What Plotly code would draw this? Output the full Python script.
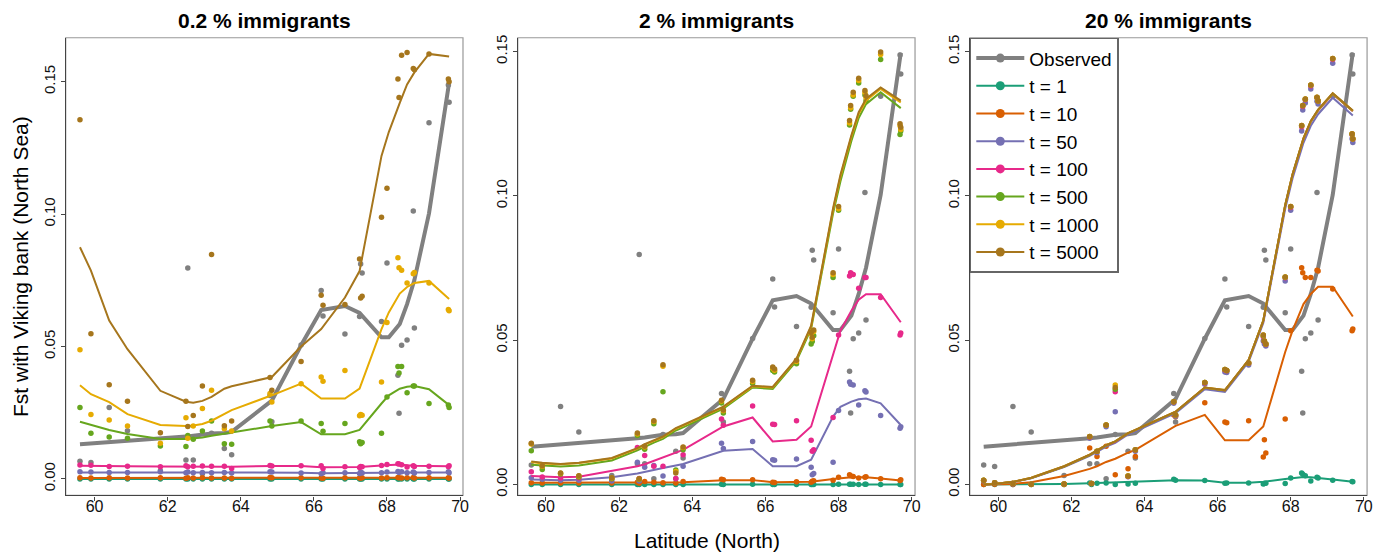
import plotly.graph_objects as go

# ---------------- data ----------------
SITE_LAT = [59.6, 59.9, 60.4, 60.9, 61.8, 62.5, 62.7, 62.95, 63.2, 63.55, 63.75, 64.85,
            65.65, 66.2, 66.85, 67.25, 67.85, 68.05, 68.35, 68.55, 68.75, 69.15, 69.7]
SAMPLE_LAT = [59.6, 59.9, 60.4, 60.9, 61.8, 62.5, 62.55, 62.7, 62.95, 63.2, 63.55, 63.75,
              64.8, 64.85, 65.65, 66.2, 66.25, 66.85, 67.25, 67.28, 67.32, 67.85, 68.0,
              68.3, 68.33, 68.4, 68.55, 68.72, 68.75, 69.15, 69.68, 69.7]

PANEL_TITLES = ["0.2 % immigrants", "2 % immigrants", "20 % immigrants"]
SERIES = ["t = 1", "t = 10", "t = 50", "t = 100", "t = 500", "t = 1000", "t = 5000"]
COLORS = ["#1B9E77", "#D95F02", "#7570B3", "#E7298A", "#66A61E", "#E6AB02", "#A6761D"]
OBS_COLOR = "#808080"
X_TICKS = [60, 62, 64, 66, 68, 70]
Y_TICKS = [0.0, 0.05, 0.10, 0.15]
Y_TICK_TEXT = ["0.00", "0.05", "0.10", "0.15"]

obs_line = [0.0131, 0.0134, 0.0138, 0.0142, 0.0150, 0.0160, 0.0163, 0.0168, 0.0172, 0.0174, 0.0178, 0.0296,
            0.0505, 0.0638, 0.0653, 0.0627, 0.0535, 0.0535, 0.0585, 0.0660, 0.0751, 0.1003, 0.1496]
obs_pts = [0.0067, 0.0062, 0.0270, 0.0182, 0.0031, 0.0072, 0.0797, 0.0072, 0.0020, 0.0173, 0.0115, 0.0092,
           0.0315, 0.0216, 0.0506, 0.0712, 0.0615, 0.0547, 0.0614, 0.0812, 0.0778, 0.0595, 0.0816,
           0.0392, 0.0248, 0.0505, 0.0525, 0.1012, 0.0570, 0.1345, 0.1488, 0.1422]

# ---- panel 1: 0.2 % immigrants ----
p1_t1_line = [0.0000, 0.0000, 0.0000, 0.0000, 0.0000, 0.0000, 0.0000, 0.0000, 0.0000, 0.0000, 0.0000, 0.0000,
              0.0000, 0.0000, 0.0000, 0.0000, 0.0000, 0.0000, 0.0000, 0.0000, 0.0000, 0.0000, 0.0000]
p1_t10_line = [0.0004, 0.0004, 0.0004, 0.0004, 0.0004, 0.0004, 0.0004, 0.0004, 0.0004, 0.0004, 0.0004, 0.0005,
               0.0005, 0.0004, 0.0004, 0.0004, 0.0005, 0.0005, 0.0005, 0.0005, 0.0005, 0.0005, 0.0005]
p1_t50_line = [0.0025, 0.0025, 0.0025, 0.0025, 0.0025, 0.0025, 0.0025, 0.0025, 0.0025, 0.0025, 0.0025, 0.0026,
               0.0024, 0.0022, 0.0023, 0.0023, 0.0025, 0.0026, 0.0027, 0.0026, 0.0025, 0.0025, 0.0025]
p1_t100_line = [0.0050, 0.0049, 0.0048, 0.0048, 0.0047, 0.0047, 0.0047, 0.0048, 0.0048, 0.0047, 0.0046, 0.0049,
                0.0049, 0.0044, 0.0045, 0.0045, 0.0051, 0.0053, 0.0055, 0.0052, 0.0050, 0.0049, 0.0048]
p1_t500_line = [0.0216, 0.0205, 0.0185, 0.0170, 0.0151, 0.0151, 0.0153, 0.0157, 0.0163, 0.0171, 0.0175, 0.0200,
                0.0215, 0.0169, 0.0169, 0.0185, 0.0285, 0.0316, 0.0341, 0.0348, 0.0351, 0.0339, 0.0279]
p1_t1000_line = [0.0354, 0.0320, 0.0290, 0.0245, 0.0204, 0.0200, 0.0202, 0.0208, 0.0220, 0.0245, 0.0260, 0.0316,
                 0.0360, 0.0304, 0.0304, 0.0341, 0.0566, 0.0629, 0.0700, 0.0725, 0.0740, 0.0748, 0.0680]
p1_t5000_line = [0.0875, 0.0787, 0.0598, 0.0490, 0.0333, 0.0292, 0.0288, 0.0295, 0.0310, 0.0341, 0.0350, 0.0385,
                 0.0500, 0.0566, 0.0685, 0.0785, 0.1220, 0.1310, 0.1420, 0.1490, 0.1535, 0.1605, 0.1595]

p1_t1_pts = [0.0000, 0.0000, 0.0000, 0.0000, 0.0000, 0.0000, 0.0000, 0.0000, 0.0000, 0.0000, 0.0000, 0.0000,
             0.0000, 0.0000, 0.0000, 0.0000, 0.0000, 0.0000, 0.0000, 0.0000, 0.0000, 0.0000, 0.0000,
             0.0000, 0.0000, 0.0000, 0.0000, 0.0000, 0.0000, 0.0000, 0.0000, 0.0000]
p1_t10_pts = [0.0005, 0.0004, 0.0005, 0.0004, 0.0005, 0.0003, 0.0005, 0.0004, 0.0005, 0.0004, 0.0004, 0.0003,
              0.0006, 0.0005, 0.0005, 0.0004, 0.0003, 0.0005, 0.0004, 0.0004, 0.0005, 0.0004, 0.0005,
              0.0006, 0.0005, 0.0004, 0.0005, 0.0006, 0.0004, 0.0005, 0.0005, 0.0004]
p1_t50_pts = [0.0027, 0.0026, 0.0025, 0.0025, 0.0027, 0.0024, 0.0026, 0.0024, 0.0025, 0.0024, 0.0025, 0.0023,
              0.0027, 0.0026, 0.0023, 0.0020, 0.0024, 0.0024, 0.0021, 0.0026, 0.0023, 0.0024, 0.0026,
              0.0028, 0.0025, 0.0027, 0.0024, 0.0026, 0.0023, 0.0025, 0.0027, 0.0024]
p1_t100_pts = [0.0053, 0.0052, 0.0047, 0.0048, 0.0046, 0.0050, 0.0046, 0.0048, 0.0049, 0.0048, 0.0048, 0.0040,
               0.0051, 0.0049, 0.0050, 0.0050, 0.0040, 0.0046, 0.0043, 0.0047, 0.0046, 0.0051, 0.0055,
               0.0058, 0.0057, 0.0054, 0.0045, 0.0050, 0.0047, 0.0048, 0.0046, 0.0050]
p1_t500_pts = [0.0270, 0.0173, 0.0159, 0.0154, 0.0125, 0.0123, 0.0164, 0.0150, 0.0181, 0.0219, 0.0133, 0.0131,
               0.0219, 0.0200, 0.0219, 0.0210, 0.0180, 0.0210, 0.0141, 0.0133, 0.0138, 0.0173, 0.0310,
               0.0425, 0.0400, 0.0425, 0.0326, 0.0351, 0.0351, 0.0285, 0.0279, 0.0270]
p1_t1000_pts = [0.0488, 0.0244, 0.0223, 0.0200, 0.0135, 0.0231, 0.0154, 0.0200, 0.0266, 0.0335, 0.0190, 0.0181,
                0.0323, 0.0291, 0.0360, 0.0385, 0.0369, 0.0410, 0.0239, 0.0244, 0.0241, 0.0366, 0.0591,
                0.0835, 0.0798, 0.0788, 0.0740, 0.0775, 0.0780, 0.0740, 0.0640, 0.0635]
p1_t5000_pts = [0.1356, 0.0548, 0.0356, 0.0294, 0.0175, 0.0294, 0.0198, 0.0240, 0.0351, 0.0848, 0.0201, 0.0219,
                0.0383, 0.0335, 0.0444, 0.0694, 0.0656, 0.0659, 0.0831, 0.0683, 0.0690, 0.0988, 0.1098,
                0.1510, 0.1440, 0.1600, 0.1610, 0.1550, 0.1545, 0.1605, 0.1510, 0.1500]

# ---- panel 2: 2 % immigrants ----
p2_t1_line = [0.0000, 0.0000, 0.0000, 0.0000, 0.0000, 0.0000, 0.0000, 0.0000, 0.0000, 0.0000, 0.0000, 0.0001,
              0.0001, 0.0000, 0.0000, 0.0000, 0.0001, 0.0001, 0.0001, 0.0001, 0.0001, 0.0001, 0.0000]
p2_t10_line = [0.0006, 0.0006, 0.0006, 0.0006, 0.0006, 0.0007, 0.0007, 0.0007, 0.0007, 0.0008, 0.0008, 0.0015,
               0.0015, 0.0008, 0.0008, 0.0009, 0.0019, 0.0022, 0.0025, 0.0025, 0.0025, 0.0021, 0.0014]
p2_t50_line = [0.0017, 0.0016, 0.0015, 0.0016, 0.0025, 0.0038, 0.0044, 0.0050, 0.0057, 0.0066, 0.0071, 0.0117,
               0.0123, 0.0063, 0.0063, 0.0086, 0.0235, 0.0269, 0.0287, 0.0295, 0.0298, 0.0281, 0.0206]
p2_t100_line = [0.0029, 0.0027, 0.0025, 0.0027, 0.0046, 0.0063, 0.0070, 0.0082, 0.0094, 0.0110, 0.0120, 0.0201,
                0.0232, 0.0149, 0.0155, 0.0201, 0.0453, 0.0533, 0.0602, 0.0640, 0.0659, 0.0659, 0.0562]
p2_t500_line = [0.0068, 0.0065, 0.0062, 0.0066, 0.0083, 0.0118, 0.0131, 0.0145, 0.0158, 0.0187, 0.0198, 0.0263,
                0.0336, 0.0331, 0.0428, 0.0540, 0.0940, 0.1050, 0.1190, 0.1270, 0.1318, 0.1359, 0.1304]
p2_t1000_line = [0.0078, 0.0073, 0.0070, 0.0074, 0.0090, 0.0124, 0.0138, 0.0151, 0.0164, 0.0193, 0.0204, 0.0268,
                 0.0340, 0.0336, 0.0434, 0.0547, 0.0952, 0.1066, 0.1205, 0.1284, 0.1330, 0.1371, 0.1324]
p2_t5000_line = [0.0080, 0.0075, 0.0071, 0.0075, 0.0092, 0.0126, 0.0140, 0.0153, 0.0166, 0.0195, 0.0206, 0.0270,
                 0.0342, 0.0338, 0.0436, 0.0550, 0.0957, 0.1072, 0.1210, 0.1290, 0.1336, 0.1376, 0.1330]

p2_t1_pts = [0.0000, 0.0000, 0.0000, 0.0000, 0.0000, 0.0000, 0.0000, 0.0000, 0.0000, 0.0000, 0.0000, 0.0000,
             0.0001, 0.0000, 0.0001, 0.0000, 0.0000, 0.0000, 0.0000, 0.0000, 0.0000, 0.0000, 0.0001,
             0.0001, 0.0001, 0.0001, 0.0000, 0.0001, 0.0001, 0.0000, 0.0000, 0.0000]
p2_t10_pts = [0.0006, 0.0005, 0.0005, 0.0005, 0.0005, 0.0008, 0.0004, 0.0010, 0.0008, 0.0006, 0.0005, 0.0010,
              0.0018, 0.0016, 0.0016, 0.0008, 0.0007, 0.0009, 0.0008, 0.0011, 0.0013, 0.0015, 0.0025,
              0.0034, 0.0030, 0.0028, 0.0022, 0.0025, 0.0027, 0.0020, 0.0014, 0.0016]
p2_t50_pts = [0.0023, 0.0018, 0.0015, 0.0015, 0.0012, 0.0077, 0.0012, 0.0060, 0.0066, 0.0029, 0.0020, 0.0063,
              0.0143, 0.0125, 0.0149, 0.0086, 0.0084, 0.0088, 0.0060, 0.0034, 0.0038, 0.0077, 0.0256,
              0.0355, 0.0347, 0.0345, 0.0275, 0.0325, 0.0320, 0.0239, 0.0195, 0.0200]
p2_t100_pts = [0.0044, 0.0026, 0.0022, 0.0022, 0.0020, 0.0128, 0.0021, 0.0100, 0.0063, 0.0063, 0.0021, 0.0103,
               0.0227, 0.0205, 0.0272, 0.0209, 0.0208, 0.0221, 0.0153, 0.0115, 0.0120, 0.0232, 0.0518,
               0.0722, 0.0734, 0.0728, 0.0680, 0.0717, 0.0717, 0.0648, 0.0518, 0.0525]
p2_t500_pts = [0.0117, 0.0052, 0.0036, 0.0026, 0.0020, 0.0170, 0.0018, 0.0122, 0.0210, 0.0321, 0.0050, 0.0120,
               0.0282, 0.0248, 0.0350, 0.0395, 0.0390, 0.0418, 0.0487, 0.0495, 0.0515, 0.0717, 0.0950,
               0.1246, 0.1300, 0.1345, 0.1391, 0.1350, 0.1330, 0.1473, 0.1213, 0.1225]
p2_t1000_pts = [0.0140, 0.0063, 0.0039, 0.0029, 0.0022, 0.0175, 0.0019, 0.0130, 0.0218, 0.0410, 0.0045, 0.0128,
                0.0289, 0.0255, 0.0357, 0.0403, 0.0396, 0.0426, 0.0522, 0.0505, 0.0530, 0.0728, 0.0955,
                0.1253, 0.1305, 0.1350, 0.1400, 0.1358, 0.1340, 0.1490, 0.1243, 0.1230]
p2_t5000_pts = [0.0143, 0.0065, 0.0040, 0.0030, 0.0023, 0.0178, 0.0020, 0.0132, 0.0221, 0.0415, 0.0040, 0.0130,
                0.0292, 0.0258, 0.0361, 0.0407, 0.0400, 0.0430, 0.0527, 0.0510, 0.0535, 0.0734, 0.0963,
                0.1261, 0.1313, 0.1359, 0.1408, 0.1365, 0.1347, 0.1499, 0.1250, 0.1238]

# ---- panel 3: 20 % immigrants ----
p3_t1_line = [0.0000, 0.0000, 0.0001, 0.0001, 0.0002, 0.0004, 0.0005, 0.0006, 0.0007, 0.0008, 0.0009, 0.0015,
              0.0014, 0.0006, 0.0006, 0.0009, 0.0019, 0.0022, 0.0026, 0.0025, 0.0023, 0.0017, 0.0009]
p3_t10_line = [0.0000, 0.0000, 0.0002, 0.0008, 0.0029, 0.0054, 0.0063, 0.0078, 0.0089, 0.0110, 0.0120, 0.0203,
               0.0241, 0.0153, 0.0153, 0.0201, 0.0459, 0.0533, 0.0625, 0.0660, 0.0685, 0.0685, 0.0582]
p3_t50_line = [0.0000, 0.0002, 0.0008, 0.0021, 0.0060, 0.0099, 0.0113, 0.0131, 0.0144, 0.0173, 0.0184, 0.0247,
               0.0330, 0.0321, 0.0425, 0.0560, 0.0955, 0.1060, 0.1184, 0.1243, 0.1283, 0.1340, 0.1279]
p3_t100_line = [0.0000, 0.0002, 0.0009, 0.0022, 0.0062, 0.0102, 0.0117, 0.0135, 0.0148, 0.0177, 0.0188, 0.0251,
                0.0335, 0.0326, 0.0431, 0.0566, 0.0966, 0.1072, 0.1197, 0.1257, 0.1296, 0.1353, 0.1293]
p3_t500_line = [0.0000, 0.0002, 0.0009, 0.0022, 0.0062, 0.0102, 0.0117, 0.0135, 0.0149, 0.0177, 0.0188, 0.0251,
                0.0335, 0.0326, 0.0431, 0.0567, 0.0967, 0.1073, 0.1198, 0.1258, 0.1297, 0.1354, 0.1294]
p3_t1000_line = [0.0000, 0.0002, 0.0009, 0.0023, 0.0063, 0.0103, 0.0118, 0.0136, 0.0149, 0.0178, 0.0189, 0.0252,
                 0.0336, 0.0327, 0.0432, 0.0568, 0.0968, 0.1074, 0.1199, 0.1259, 0.1298, 0.1355, 0.1295]
p3_t5000_line = [0.0000, 0.0002, 0.0009, 0.0023, 0.0063, 0.0103, 0.0118, 0.0136, 0.0149, 0.0178, 0.0189, 0.0252,
                 0.0336, 0.0327, 0.0432, 0.0568, 0.0969, 0.1075, 0.1200, 0.1260, 0.1299, 0.1356, 0.1296]

p3_t1_pts = [0.0000, 0.0000, 0.0000, 0.0000, 0.0000, 0.0005, 0.0000, 0.0004, 0.0005, 0.0000, 0.0002, 0.0004,
             0.0018, 0.0015, 0.0014, 0.0004, 0.0005, 0.0005, 0.0002, 0.0003, 0.0004, 0.0003, 0.0022,
             0.0040, 0.0035, 0.0030, 0.0012, 0.0025, 0.0022, 0.0015, 0.0010, 0.0009]
p3_t10_pts = [0.0000, 0.0001, 0.0000, 0.0000, 0.0000, 0.0126, 0.0003, 0.0097, 0.0132, 0.0034, 0.0054, 0.0097,
              0.0241, 0.0235, 0.0283, 0.0216, 0.0214, 0.0221, 0.0095, 0.0155, 0.0109, 0.0227, 0.0533,
              0.0751, 0.0734, 0.0717, 0.0717, 0.0742, 0.0740, 0.0677, 0.0533, 0.0539]
p3_t50_pts = [0.0012, 0.0005, 0.0002, 0.0001, 0.0002, 0.0160, 0.0003, 0.0110, 0.0200, 0.0252, 0.0027, 0.0115,
              0.0281, 0.0236, 0.0347, 0.0390, 0.0388, 0.0414, 0.0497, 0.0487, 0.0480, 0.0705, 0.0950,
              0.1225, 0.1298, 0.1322, 0.1370, 0.1328, 0.1318, 0.1460, 0.1198, 0.1185]
p3_t100_pts = [0.0014, 0.0006, 0.0003, 0.0001, 0.0002, 0.0164, 0.0003, 0.0114, 0.0205, 0.0321, 0.0028, 0.0119,
               0.0286, 0.0240, 0.0352, 0.0397, 0.0394, 0.0420, 0.0512, 0.0495, 0.0485, 0.0716, 0.0960,
               0.1240, 0.1310, 0.1333, 0.1381, 0.1340, 0.1328, 0.1473, 0.1212, 0.1196]
p3_t500_pts = [0.0015, 0.0006, 0.0003, 0.0001, 0.0002, 0.0165, 0.0003, 0.0115, 0.0206, 0.0330, 0.0029, 0.0120,
               0.0287, 0.0241, 0.0353, 0.0398, 0.0395, 0.0421, 0.0515, 0.0497, 0.0487, 0.0718, 0.0962,
               0.1243, 0.1312, 0.1335, 0.1383, 0.1341, 0.1329, 0.1475, 0.1214, 0.1197]
p3_t1000_pts = [0.0015, 0.0006, 0.0003, 0.0001, 0.0002, 0.0166, 0.0003, 0.0115, 0.0206, 0.0345, 0.0029, 0.0120,
                0.0287, 0.0241, 0.0353, 0.0398, 0.0395, 0.0421, 0.0518, 0.0497, 0.0487, 0.0719, 0.0963,
                0.1244, 0.1313, 0.1336, 0.1384, 0.1342, 0.1330, 0.1476, 0.1215, 0.1198]
p3_t5000_pts = [0.0015, 0.0006, 0.0003, 0.0001, 0.0002, 0.0166, 0.0003, 0.0115, 0.0206, 0.0336, 0.0029, 0.0120,
                0.0287, 0.0241, 0.0353, 0.0398, 0.0395, 0.0421, 0.0518, 0.0497, 0.0487, 0.0719, 0.0963,
                0.1244, 0.1313, 0.1336, 0.1384, 0.1342, 0.1330, 0.1476, 0.1215, 0.1198]

PANEL_LINES = [
    [p1_t1_line, p1_t10_line, p1_t50_line, p1_t100_line, p1_t500_line, p1_t1000_line, p1_t5000_line],
    [p2_t1_line, p2_t10_line, p2_t50_line, p2_t100_line, p2_t500_line, p2_t1000_line, p2_t5000_line],
    [p3_t1_line, p3_t10_line, p3_t50_line, p3_t100_line, p3_t500_line, p3_t1000_line, p3_t5000_line],
]
PANEL_PTS = [
    [p1_t1_pts, p1_t10_pts, p1_t50_pts, p1_t100_pts, p1_t500_pts, p1_t1000_pts, p1_t5000_pts],
    [p2_t1_pts, p2_t10_pts, p2_t50_pts, p2_t100_pts, p2_t500_pts, p2_t1000_pts, p2_t5000_pts],
    [p3_t1_pts, p3_t10_pts, p3_t50_pts, p3_t100_pts, p3_t500_pts, p3_t1000_pts, p3_t5000_pts],
]

# ---------------- layout geometry ----------------
W, H = 1390, 554
X_DOMAINS = [[66 / W, 465 / W], [520 / W, 919 / W], [974 / W, 1373 / W]]
Y_DOMAIN = [(H - 496) / H, (H - 35) / H]
X_RANGES = [[59.21, 70.08], [59.23, 70.09], [59.22, 70.09]]
Y_RANGES = [[-0.0062, 0.1666], [-0.0038, 0.1548], [-0.0038, 0.1548]]
FONT = "Liberation Sans, Arial, Helvetica, sans-serif"

fig = go.Figure()

for p in range(3):
    xa = "x" if p == 0 else f"x{p + 1}"
    ya = "y" if p == 0 else f"y{p + 1}"
    # observed
    fig.add_trace(go.Scatter(x=SAMPLE_LAT, y=obs_pts, mode="markers", xaxis=xa, yaxis=ya,
                             marker=dict(color=OBS_COLOR, size=5.5), showlegend=False, hoverinfo="skip"))
    fig.add_trace(go.Scatter(x=SITE_LAT, y=obs_line, mode="lines", xaxis=xa, yaxis=ya,
                             line=dict(color=OBS_COLOR, width=4), showlegend=False, hoverinfo="skip"))
    for s in range(len(SERIES)):
        fig.add_trace(go.Scatter(x=SAMPLE_LAT, y=PANEL_PTS[p][s], mode="markers", xaxis=xa, yaxis=ya,
                                 marker=dict(color=COLORS[s], size=5.5), showlegend=False, hoverinfo="skip"))
        fig.add_trace(go.Scatter(x=SITE_LAT, y=PANEL_LINES[p][s], mode="lines", xaxis=xa, yaxis=ya,
                                 line=dict(color=COLORS[s], width=2), showlegend=False, hoverinfo="skip"))

# legend entries
fig.add_trace(go.Scatter(x=[None], y=[None], mode="lines+markers", name="Observed", xaxis="x3", yaxis="y3",
                         line=dict(color=OBS_COLOR, width=4), marker=dict(color=OBS_COLOR, size=9)))
for s in range(len(SERIES)):
    fig.add_trace(go.Scatter(x=[None], y=[None], mode="lines+markers", name=SERIES[s], xaxis="x3", yaxis="y3",
                             line=dict(color=COLORS[s], width=2), marker=dict(color=COLORS[s], size=9)))

layout = dict(
    width=W, height=H,
    margin=dict(l=0, r=0, t=0, b=0),
    paper_bgcolor="white", plot_bgcolor="white",
    font=dict(family=FONT, color="black"),
    showlegend=True,
    legend=dict(x=974 / W, y=(H - 35) / H, xanchor="left", yanchor="top",
                bgcolor="white", bordercolor="#666666", borderwidth=1.5, itemwidth=48,
                font=dict(size=19, family=FONT, color="black"), tracegroupgap=0),
    shapes=[], annotations=[],
)

for p in range(3):
    xk = "xaxis" if p == 0 else f"xaxis{p + 1}"
    yk = "yaxis" if p == 0 else f"yaxis{p + 1}"
    ya = "y" if p == 0 else f"y{p + 1}"
    xa = "x" if p == 0 else f"x{p + 1}"
    layout[xk] = dict(domain=X_DOMAINS[p], range=X_RANGES[p], anchor=ya,
                      tickvals=X_TICKS, ticktext=[str(v) for v in X_TICKS],
                      showgrid=False, zeroline=False, showline=True, linecolor="#444444", linewidth=1.2,
                      ticks="outside", ticklen=4, tickcolor="#444444", ticklabelstandoff=-8,
                      tickfont=dict(size=16, family=FONT, color="#111111"))
    layout[yk] = dict(domain=Y_DOMAIN, range=Y_RANGES[p], anchor=xa,
                      tickvals=Y_TICKS, ticktext=Y_TICK_TEXT, tickangle=-90,
                      showgrid=False, zeroline=False, showline=True, linecolor="#444444", linewidth=1.2,
                      ticks="outside", ticklen=4, tickcolor="#444444",
                      tickfont=dict(size=15, family=FONT, color="#111111"))
    layout["shapes"].append(dict(type="rect", xref=f"{xa} domain", yref=f"{ya} domain",
                                 x0=0, x1=1, y0=0, y1=1, line=dict(color="#999999", width=1.2), layer="below"))
    layout["annotations"].append(dict(text=f"<b>{PANEL_TITLES[p]}</b>", xref="paper", yref="paper",
                                      x=sum(X_DOMAINS[p]) / 2, y=(H - 18) / H, xanchor="center", yanchor="middle",
                                      showarrow=False, font=dict(size=21, family=FONT, color="black")))

layout["annotations"].append(dict(text="Fst with Viking bank (North Sea)", xref="paper", yref="paper",
                                  x=20 / W, y=(H - 265) / H, xanchor="center", yanchor="middle", textangle=-90,
                                  showarrow=False, font=dict(size=21, family=FONT, color="black")))
layout["annotations"].append(dict(text="Latitude (North)", xref="paper", yref="paper",
                                  x=710 / W, y=(H - 541) / H, xanchor="center", yanchor="middle",
                                  showarrow=False, font=dict(size=21, family=FONT, color="black")))

fig.update_layout(**layout)
fig.write_html("out.html")
